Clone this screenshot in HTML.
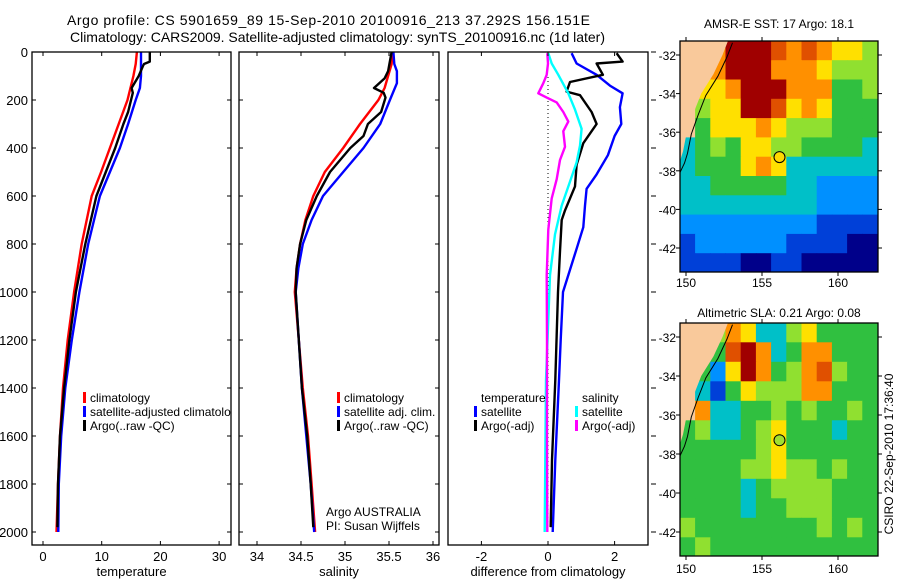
<!DOCTYPE html>
<html><head><meta charset="utf-8"><style>
html,body{margin:0;padding:0;background:#fff;}
svg{display:block;font-family:"Liberation Sans",Arial,sans-serif;}
</style></head><body>
<svg id="chart" width="900" height="580" viewBox="0 0 900 580" xmlns="http://www.w3.org/2000/svg">
<defs>
<clipPath id="c1"><rect x="32" y="52" width="199" height="493"/></clipPath>
<clipPath id="c2"><rect x="239" y="52" width="200" height="493"/></clipPath>
<clipPath id="c3"><rect x="448" y="52" width="200" height="493"/></clipPath>
<clipPath id="cm1"><rect x="680" y="41" width="198" height="231"/></clipPath>
<clipPath id="cm2"><rect x="680" y="323" width="198" height="233"/></clipPath>
</defs>
<text x="67" y="25" font-size="14" textLength="523">Argo profile: CS 5901659_89 15-Sep-2010 20100916_213 37.292S 156.151E</text>
<text x="70" y="42" font-size="14" textLength="535">Climatology: CARS2009. Satellite-adjusted climatology: synTS_20100916.nc (1d later)</text>
<g id="g1" clip-path="url(#c1)"></g>
<g id="g2" clip-path="url(#c2)"></g>
<g id="g3" clip-path="url(#c3)"></g>
<g id="gm1" clip-path="url(#cm1)"></g>
<g id="gm2" clip-path="url(#cm2)"></g>
<g id="axes"></g>
<text x="779" y="28" font-size="12" text-anchor="middle">AMSR-E SST: 17 Argo: 18.1</text>
<text x="779" y="317" font-size="12" text-anchor="middle">Altimetric SLA: 0.21 Argo: 0.08</text>
<text transform="translate(893,454) rotate(-90)" font-size="12" text-anchor="middle">CSIRO 22-Sep-2010 17:36:40</text>
<text x="326" y="516" font-size="12">Argo AUSTRALIA</text>
<text x="326" y="530" font-size="12">PI: Susan Wijffels</text>
<g id="legend1" clip-path="url(#c1)"></g>
<g id="legends"></g>
</svg>
<script>
// ---- profile data ----
const tDepthRed=[0,50,100,200,300,400,500,600,800,1000,1200,1400,1600,1800,2000];
const tRed=[16.0,15.8,15.4,14.4,12.9,11.4,9.9,8.3,6.6,5.3,4.2,3.4,2.9,2.55,2.3];
const tDepthBlue=[0,100,150,200,300,400,500,600,800,1000,1200,1400,1600,1800,2000];
const tBlue=[16.7,16.7,16.5,15.8,14.5,13.1,11.4,9.7,7.7,6.2,4.9,3.8,3.1,2.7,2.6];
const tDepthBlack=[0,40,50,60,100,150,170,250,300,400,500,600,800,1000,1200,1400,1600,1800,1980];
const tBlack=[18.2,18.2,17.2,17.0,16.3,15.1,15.3,14.5,13.7,12.3,10.7,9.1,7.2,5.6,4.5,3.6,2.9,2.55,2.45];

const sDepthRed=[0,50,150,200,300,400,500,600,700,800,900,1000,1400,1600,1800,2000];
const sRed=[35.54,35.53,35.45,35.38,35.17,34.98,34.77,34.64,34.55,34.49,34.45,34.43,34.52,34.58,34.62,34.66];
const sDepthBlue=[0,50,80,130,200,300,400,500,600,700,800,900,1000,1400,1600,1800,2000];
const sBlue=[35.55,35.56,35.59,35.59,35.51,35.40,35.21,34.98,34.75,34.62,34.52,34.47,34.44,34.51,34.56,34.61,34.65];
const sDepthBlack=[0,80,110,150,170,190,250,300,350,400,500,600,700,800,900,1000,1400,1600,1800,1980];
const sBlack=[35.53,35.49,35.45,35.33,35.44,35.46,35.41,35.26,35.21,35.06,34.83,34.68,34.56,34.49,34.45,34.44,34.51,34.57,34.61,34.64];

const dDepthTSat=[5,48,95,140,172,230,300,350,430,510,570,640,730,820,1000,1200,1367,1700,2000];
const dTSat=[0.71,0.86,1.46,1.86,2.24,2.16,2.2,2.0,1.8,1.46,1.16,1.11,1.06,0.86,0.45,0.38,0.33,0.22,0.14];
const dDepthTArgo=[5,40,48,95,125,165,180,250,300,380,470,560,660,700,830,1000,1367,1700,1980];
const dTArgo=[2.06,2.24,1.46,1.65,0.66,0.56,0.96,1.31,1.46,1.06,0.86,0.81,0.51,0.41,0.36,0.3,0.22,0.12,0.08];
const dDepthSSat=[5,48,95,172,240,320,390,460,540,640,760,930,1367,1700,2000];
const dSSat=[0.01,0.11,0.31,0.61,0.81,1.01,0.96,0.86,0.66,0.41,0.21,0.06,-0.06,-0.08,-0.1];
const dDepthSArgo=[5,48,95,130,172,190,210,250,290,330,395,450,530,610,740,930,1200,1600,2000];
const dSArgo=[-0.02,0,-0.04,-0.14,-0.29,-0.04,0.26,0.46,0.61,0.46,0.51,0.36,0.26,0.11,0.01,-0.04,-0.03,-0.03,-0.02];

// ---- map data (1 degree cells, rows from -31.3 southward, cols from 149.6 eastward) ----
const sstRows=["LL79998787665","LL79997776555","L667999777445","L566998676444","L466676555444","3454665544443","3444676333333","3344444332222","3333333332222","2222222221111","1222222111100","1111001100000"];
const slaRows=["LL57633564444","LL48973477444","L426974578544","L314655577444","L733445454454","4533456444344","4444456444444","4444556554544","4444345555444","4444344555444","5444444445454","4544444444444"];
const palette=['#00008a','#0040d8','#0090ff','#00c0c8','#30c040','#90e030','#ffe000','#ff9000','#e05000','#a00000'];
const coastLon=[152.76,152.4,151.8,151.0,150.5,150.05,149.8,149.6];
const coastLat=[-31.27,-32,-33,-34,-35,-36,-37,-37.5];
const depthTicks=[0,200,400,600,800,1000,1200,1400,1600,1800,2000];
const tTicks=[0,10,20,30];
const sTicks=[34,34.5,35,35.5,36];
const sTickLabels=["34","34.5","35","35.5","36"];
const dTicks=[-2,0,2];
const latTicks=[-32,-34,-36,-38,-40,-42];
const lonTicks=[150,155,160];

const NS='http://www.w3.org/2000/svg';
function mk(tag,attrs,parent){const e=document.createElementNS(NS,tag);for(const k in attrs)e.setAttribute(k,attrs[k]);parent.appendChild(e);return e;}
const yD=d=>52+d*0.24;
const xT=v=>43+v*5.87;
const xS=v=>257+(v-34)*88;
const xD=v=>548+v*33.3;
const mX=lon=>686+(lon-150)*15.2;
const mY1=lat=>55+(-32-lat)*19.3;
const mY2=lat=>337+(-32-lat)*19.5;

function line(g,xs,ds,fx,color,name,w){
  const pts=xs.map((v,i)=>fx(v).toFixed(1)+','+yD(ds[i]).toFixed(1)).join(' ');
  const p=mk('polyline',{points:pts,fill:'none',stroke:color,'stroke-width':w||2.4,'stroke-linejoin':'round'},g);
  
  
}
const g1=document.getElementById('g1'),g2=document.getElementById('g2'),g3=document.getElementById('g3');
line(g1,tRed,tDepthRed,xT,'#f00','temp-climatology-line');
line(g1,tBlue,tDepthBlue,xT,'#00f','temp-satellite-line');
line(g1,tBlack,tDepthBlack,xT,'#000','temp-argo-line');
line(g2,sRed,sDepthRed,xS,'#f00','sal-climatology-line');
line(g2,sBlue,sDepthBlue,xS,'#00f','sal-satellite-line');
line(g2,sBlack,sDepthBlack,xS,'#000','sal-argo-line');
const zl=mk('line',{x1:xD(0),x2:xD(0),y1:77,y2:532,stroke:'#000','stroke-width':1,'stroke-dasharray':'1,3'},g3);


line(g3,dTSat,dDepthTSat,xD,'#00f','diff-temp-satellite-line');
line(g3,dTArgo,dDepthTArgo,xD,'#000','diff-temp-argo-line');
line(g3,dSSat,dDepthSSat,xD,'#0ff','diff-sal-satellite-line');
line(g3,dSArgo,dDepthSArgo,xD,'#f0f','diff-sal-argo-line');

// maps
function drawMap(g,rows,fy,land,markFill,prefix){
  rows.forEach((r,ri)=>{
    for(let ci=0;ci<r.length;ci++){
      const ch=r[ci];
      const lon0=149.6+ci, lat0=-31.27-ri;
      const x=mX(lon0), y=fy(lat0), w=mX(lon0+1)-x+0.5, h=fy(lat0-1)-y+0.5;
      const c=mk('rect',{x:x.toFixed(1),y:y.toFixed(1),width:w.toFixed(1),height:h.toFixed(1),fill:ch==='L'?land:palette[+ch]},g);
      
      
    }
  });
  let pts=coastLon.map((v,i)=>mX(v).toFixed(1)+','+fy(coastLat[i]).toFixed(1)).join(' ');
  pts=mX(149.5).toFixed(1)+','+fy(-31).toFixed(1)+' '+mX(153).toFixed(1)+','+fy(-31).toFixed(1)+' '+pts+' '+mX(149.5).toFixed(1)+','+fy(-37.5).toFixed(1);
  const lp=mk('polygon',{points:pts,fill:land,stroke:'none'},g);
  
  
  const cpts=coastLon.map((v,i)=>mX(v+0.3).toFixed(1)+','+fy(coastLat[i]-0.1).toFixed(1)).join(' ')+' '+mX(149.6).toFixed(1)+','+fy(-38.1).toFixed(1);
  const cl=mk('polyline',{points:cpts,fill:'none',stroke:'#000','stroke-width':1},g);
  
  
  const cc=mk('circle',{cx:mX(156.151),cy:fy(-37.292),r:5.5,fill:markFill,stroke:'#000','stroke-width':1},g);
  
  
}
drawMap(document.getElementById('gm1'),sstRows,mY1,'#f9c99b','#ffd800','sst');
drawMap(document.getElementById('gm2'),slaRows,mY2,'#f9c99b','#a0e030','sla');

// axes
const ax=document.getElementById('axes');
function frame(x,y,w,h,name){
  const r=mk('rect',{x:x,y:y,width:w,height:h,fill:'none',stroke:'#000','stroke-width':1.3},ax);
  
  
}
function txt(x,y,s,anchor,name,size){
  const t=mk('text',{x:x,y:y,'font-size':size||12,'text-anchor':anchor||'middle'},ax);
  t.textContent=s;
  
  
}
function tk(x1,y1,x2,y2){mk('line',{x1:x1,y1:y1,x2:x2,y2:y2,stroke:'#000','stroke-width':1},ax);}
const panels=[[32,231,xT,tTicks,tTicks.map(String),'temperature'],[239,439,xS,sTicks,sTickLabels,'salinity'],[448,648,xD,dTicks,dTicks.map(String),'difference from climatology']];
panels.forEach((p,pi)=>{
  frame(p[0],52,p[1]-p[0],493,'panel-'+(pi+1)+'-frame');
  depthTicks.forEach(d=>{const y=yD(d);
    if(pi<2){tk(p[0],y,p[0]+4,y);tk(p[1]-4,y,p[1],y);} else {tk(p[1]+3,y,p[1]+8,y);}
  });
  p[3].forEach((v,i)=>{const x=p[2](v);tk(x,52,x,56);tk(x,541,x,545);txt(x,561,p[4][i],'middle','x-tick-label',13);});
  txt((p[0]+p[1])/2,576,p[5],'middle','x-axis-title',13);
});
depthTicks.forEach(d=>txt(28,yD(d)+5,String(d),'end','y-tick-label',13));
[[41,272,mY1,'sst-map-frame',287],[323,556,mY2,'sla-map-frame',573]].forEach(m=>{
  frame(680,m[0],198,m[1]-m[0],m[3]);
  latTicks.forEach(l=>{const y=m[2](l);tk(676,y,680,y);tk(878,y,882,y);txt(676,y+5,String(l),'end','lat-tick-label',12);});
  lonTicks.forEach(l=>{const x=mX(l);tk(x,m[0]-4,x,m[0]);tk(x,m[1],x,m[1]+4);txt(x,m[4],String(l),'middle','lon-tick-label',12);});
});

// legends
const lg=document.getElementById('legends');
const lg1=document.getElementById('legend1');
function leg(g,x,y,color,label,name){
  if(color){const r=mk('rect',{x:x-7,y:y-10,width:3,height:11,fill:color},g);
    
    }
  const t=mk('text',{x:x,y:y,'font-size':12},g);
  t.textContent=label;
  
  
}
leg(lg1,90,402,'#f00','climatology','legend-climatology');
leg(lg1,90,416,'#00f','satellite-adjusted climatology','legend-satellite-adjusted');
leg(lg1,90,430,'#000','Argo(..raw -QC)','legend-argo');
leg(lg,344,402,'#f00','climatology','legend-sal-climatology');
leg(lg,344,416,'#00f','satellite adj. clim.','legend-sal-satellite');
leg(lg,344,430,'#000','Argo(..raw -QC)','legend-sal-argo');
leg(lg,481,402,null,'temperature','legend-temperature-header');
leg(lg,481,416,'#00f','satellite','legend-diff-temp-satellite');
leg(lg,481,430,'#000','Argo(-adj)','legend-diff-temp-argo');
leg(lg,582,402,null,'salinity','legend-salinity-header');
leg(lg,582,416,'#0ff','satellite','legend-diff-sal-satellite');
leg(lg,582,430,'#f0f','Argo(-adj)','legend-diff-sal-argo');
</script>
</body></html>
